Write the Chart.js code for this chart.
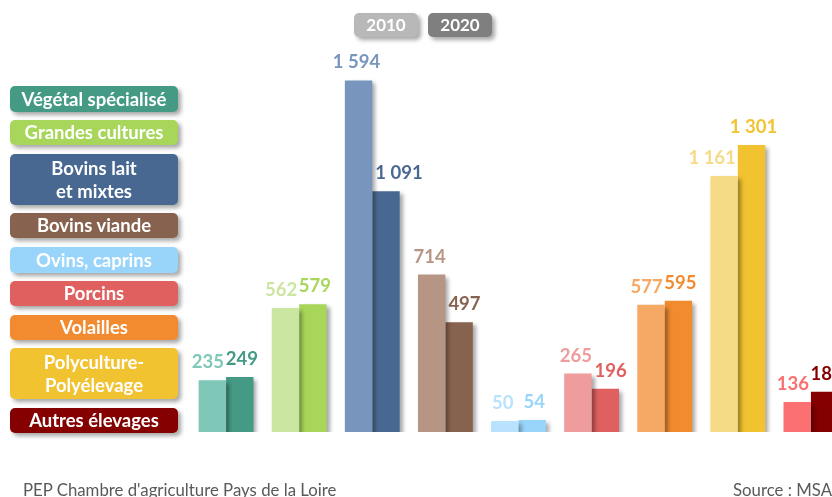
<!DOCTYPE html>
<html>
<head>
<meta charset="utf-8">
<script src="https://cdn.jsdelivr.net/npm/chart.js@4"></script>
<style>
  body { margin: 0; width: 832px; height: 497px; overflow: hidden; background: #fff; position: relative; font-family: Lato, "Open Sans", sans-serif; }
  #chart { position: absolute; left: 0; top: 0; }
  .badge, .cat { position: absolute; color: #fff; font-weight: bold; text-align: center; border-radius: 5px; box-shadow: 3px 3px 4px rgba(0,0,0,0.35); display: flex; align-items: center; justify-content: center; line-height: 1.2; }
  .badge { top: 13px; height: 24px; width: 64px; font-size: 17px; }
  .cat { left: 10px; width: 168px; font-size: 18.5px; }
  .foot { position: absolute; top: 479px; font-size: 16.8px; color: #595959; white-space: nowrap; }
</style>
</head>
<body>
<canvas id="chart" width="860" height="497"></canvas>
<div id="legend"></div>
<div class="badge" style="left:354px;background:#b8b8b8">2010</div>
<div class="badge" style="left:428px;background:#7f7f7f">2020</div>
<div class="foot" style="left:23px">PEP Chambre d'agriculture Pays de la Loire</div>
<div class="foot" style="left:733px">Source : MSA</div>
<script>
// categories and values
const categories = ['Végétal spécialisé', 'Grandes cultures', 'Bovins lait\net mixtes', 'Bovins viande',
  'Ovins, caprins', 'Porcins', 'Volailles', 'Polyculture-\nPolyélevage', 'Autres élevages'];
const values2010 = [235, 562, 1594, 714, 50, 265, 577, 1161, 136];
const values2020 = [249, 579, 1091, 497, 54, 196, 595, 1301, 182];
const colors2010 = ['#7fc7b6', '#cbe6a0', '#7896bd', '#b69584', '#b8e2fd', '#ee9c9c', '#f6a964', '#f6db87', '#fb7070'];
const colors2020 = ['#459a86', '#a8d65a', '#486891', '#87624f', '#99d5fb', '#e06060', '#f28b2f', '#f2c331', '#850000'];

// legend boxes on the left
const legendRows = [[86, 26], [120, 25], [154, 51], [213, 25], [247, 26], [281, 25], [315, 25], [348, 51], [408, 25]];
const legend = document.getElementById('legend');
categories.forEach((c, i) => {
  const d = document.createElement('div');
  d.className = 'cat';
  d.style.top = legendRows[i][0] + 'px';
  d.style.height = legendRows[i][1] + 'px';
  d.style.background = colors2020[i];
  d.innerHTML = c.replace('\n', '<br>');
  legend.appendChild(d);
});

function fmt(v) {
  return v.toString().replace(/\B(?=(\d{3})+(?!\d))/g, ' ');
}

// bar shadows
const shadowPlugin = {
  id: 'shadow',
  beforeDatasetDraw(chart) {
    const c = chart.ctx;
    c.save();
    c.shadowColor = 'rgba(0,0,0,0.35)';
    c.shadowBlur = 4;
    c.shadowOffsetX = 3;
    c.shadowOffsetY = 3;
  },
  afterDatasetDraw(chart) {
    chart.ctx.restore();
  }
};

// value labels above the bars, pushed outward when they would hit the taller neighbour
const labelPlugin = {
  id: 'labels',
  afterDatasetsDraw(chart) {
    const c = chart.ctx;
    c.save();
    c.font = 'bold 18.5px Lato, "Open Sans", sans-serif';
    c.textBaseline = 'alphabetic';
    const metas = [chart.getDatasetMeta(0), chart.getDatasetMeta(1)];
    chart.data.datasets.forEach((ds, di) => {
      metas[di].data.forEach((bar, i) => {
        const txt = fmt(ds.data[i]);
        const other = metas[1 - di].data[i];
        const w = c.measureText(txt).width;
        const half = bar.width / 2;
        c.fillStyle = ds.backgroundColor[i];
        if (w > bar.width + 4 && other.y < bar.y) {
          if (di === 0) { c.textAlign = 'right'; c.fillText(txt, bar.x + half - 2, bar.y - 12); }
          else { c.textAlign = 'left'; c.fillText(txt, bar.x - half + 3, bar.y - 12); }
        } else {
          c.textAlign = 'center';
          c.fillText(txt, bar.x + (di === 0 ? -2 : 2), bar.y - 12);
        }
      });
    });
    c.restore();
  }
};

new Chart(document.getElementById('chart'), {
  type: 'bar',
  data: {
    labels: categories,
    datasets: [
      { label: '2010', data: values2010, backgroundColor: colors2010 },
      { label: '2020', data: values2020, backgroundColor: colors2020 }
    ]
  },
  options: {
    responsive: false,
    animation: false,
    layout: { padding: { left: 189.5, right: 12.5, top: 57, bottom: 65 } },
    datasets: { bar: { categoryPercentage: 0.75, barPercentage: 1.0 } },
    plugins: { legend: { display: false }, tooltip: { enabled: false } },
    scales: {
      x: { display: false },
      y: { display: false, min: 0, max: 1700 }
    }
  },
  plugins: [shadowPlugin, labelPlugin]
});
</script>
</body>
</html>
